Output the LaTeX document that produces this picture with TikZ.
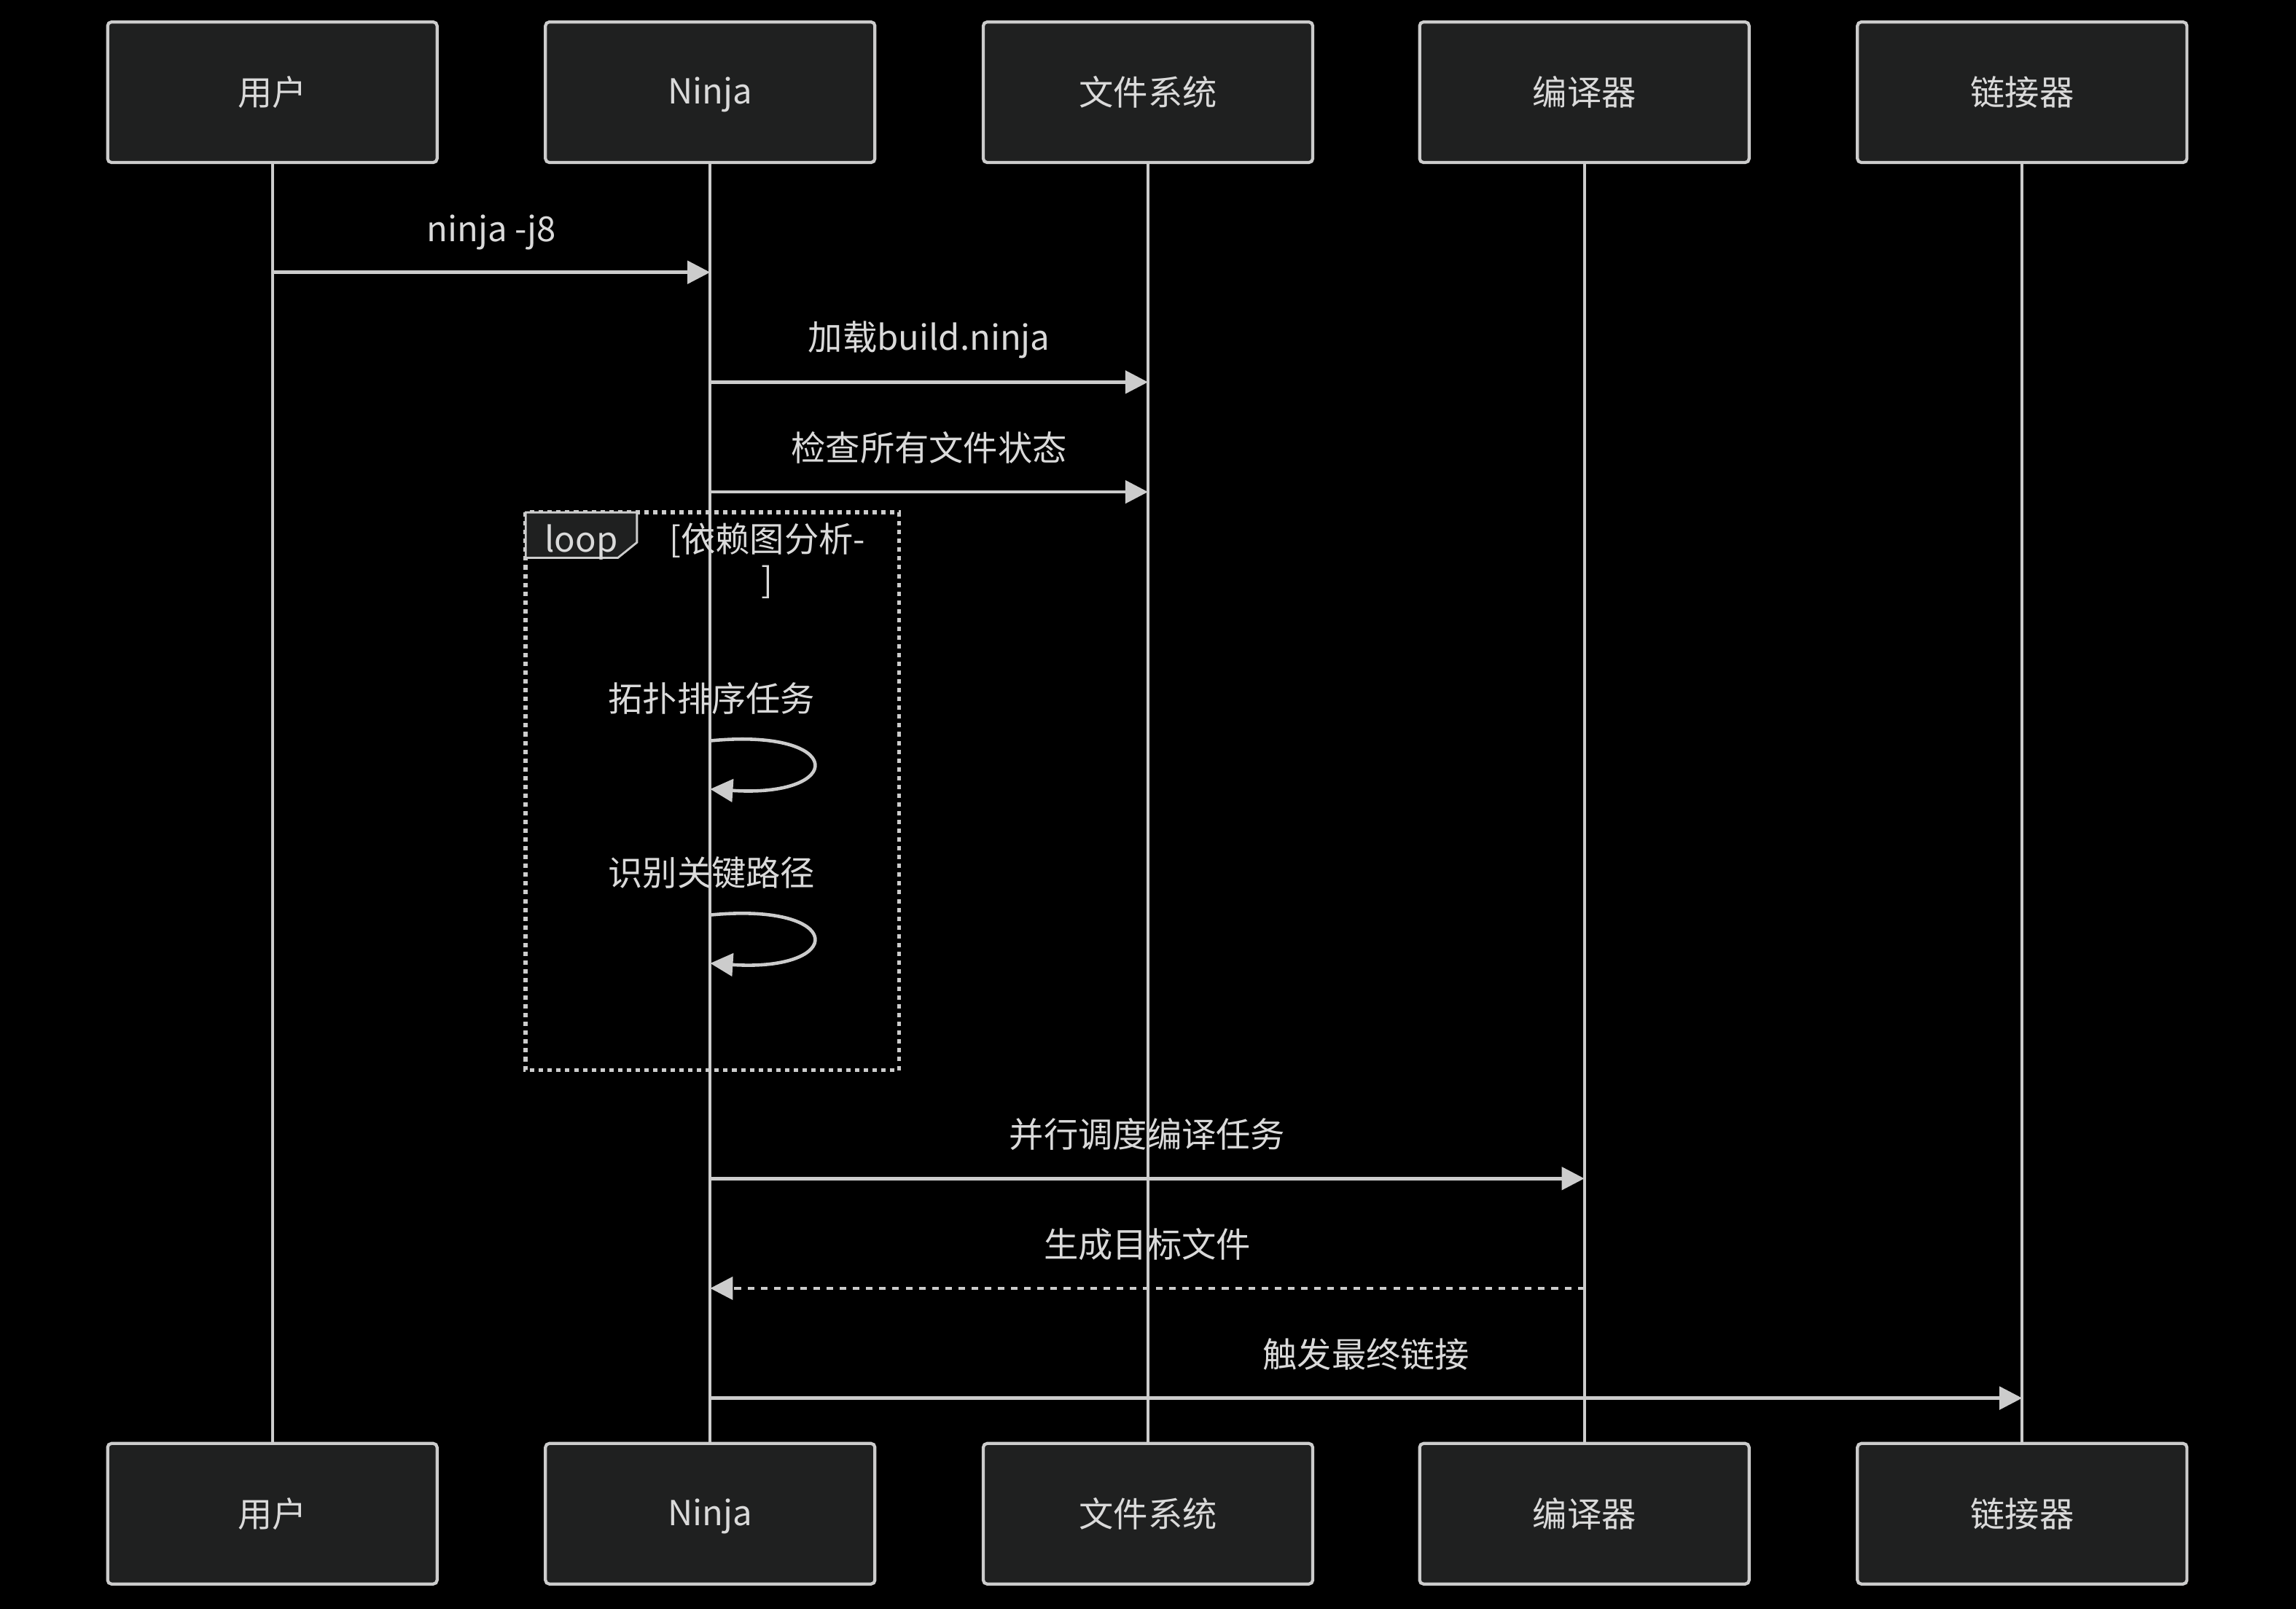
\documentclass[tikz,border=0pt]{standalone}
\usepackage{fontspec}
\setmainfont{Noto Sans CJK SC}
\usetikzlibrary{arrows.meta}
\definecolor{LineGray}{RGB}{204,204,204}
\definecolor{TextGray}{RGB}{218,218,218}
\definecolor{BoxFill}{RGB}{31,32,32}
% Latin text on the same baseline as the CJK labels
\newcommand{\cjkbox}[1]{\vphantom{用}\smash{#1}}

\begin{document}
\begin{tikzpicture}[x=0.2mm, y=-0.2mm, font=\fontsize{13.4}{16}\selectfont,
  every node/.style={align=center, text=TextGray}]
\tikzset{
  actor/.style={draw=LineGray, line width=1.2pt, fill=BoxFill, rounded corners=1.5pt,
    minimum width=4.5cm, minimum height=1.92cm},
  life/.style={LineGray, line width=1.2pt},
  msg/.style={-{Triangle[length=3.1mm,width=3.1mm]}, LineGray, line width=1.3pt},
  reply/.style={msg, dash pattern=on 0.9mm off 0.9mm},
  selfmsg/.style={msg, line width=1.3pt},
  loopframe/.style={LineGray, line width=1.6pt, dash pattern=on 0.6mm off 0.6mm},
  looptab/.style={draw=LineGray, line width=0.8pt, fill=BoxFill}
}
  \def\ytop{63}
  \def\ybot{1034}

  \fill[black] (0,0) rectangle (1568,1099);

  % participants
  \node[actor] (user) at (186,\ytop) {用户};
  \node[actor] (ninja) at (485,\ytop) {\cjkbox{Ninja}};
  \node[actor] (fs) at (784,\ytop) {文件系统};
  \node[actor] (cc) at (1082,\ytop) {编译器};
  \node[actor] (ld) at (1381,\ytop) {链接器};
  \node[actor] (userb) at (186,\ybot) {用户};
  \node[actor] (ninjab) at (485,\ybot) {\cjkbox{Ninja}};
  \node[actor] (fsb) at (784,\ybot) {文件系统};
  \node[actor] (ccb) at (1082,\ybot) {编译器};
  \node[actor] (ldb) at (1381,\ybot) {链接器};

  % lifelines
  \draw[life] (user) -- (userb);
  \draw[life] (ninja) -- (ninjab);
  \draw[life] (fs) -- (fsb);
  \draw[life] (cc) -- (ccb);
  \draw[life] (ld) -- (ldb);

  % message rows
  \coordinate (r1) at (0,186);
  \coordinate (r2) at (0,261);
  \coordinate (r3) at (0,336);
  \coordinate (s1a) at (0,506);
  \coordinate (s1b) at (0,539);
  \coordinate (s2a) at (0,625);
  \coordinate (s2b) at (0,658);
  \coordinate (r4) at (0,805);
  \coordinate (r5) at (0,880);
  \coordinate (r6) at (0,955);

  \draw[msg] (user |- r1) -- node[yshift=0.58cm] (t1) {\cjkbox{ninja -j8}} (ninja |- r1);
  \draw[msg] (ninja |- r2) -- node[yshift=0.6cm] (t2) {\cjkbox{加载build.ninja}} (fs |- r2);
  \draw[msg] (ninja |- r3) -- node[yshift=0.6cm] (t3) {检查所有文件状态} (fs |- r3);

  % loop block
  \draw[loopframe] (359,350) rectangle (614,731);
  \draw[looptab] (359,350) -- (435,350) -- (435,370.5) -- (422,381) -- (359,381) -- cycle;
  \node (looplbl) at (397,369) {\cjkbox{loop}};
  \node (cond) at (524,383) {[依赖图分析-\\]};

  \node (t4) at (486,477) {拓扑排序任务};
  \draw[selfmsg] (ninja |- s1a) .. controls (578,497) and (578,545) .. (ninja |- s1b);
  \node (t5) at (486,596) {识别关键路径};
  \draw[selfmsg] (ninja |- s2a) .. controls (578,616) and (578,664) .. (ninja |- s2b);

  \draw[msg] (ninja |- r4) -- node[yshift=0.6cm] (t6) {并行调度编译任务} (cc |- r4);
  \draw[reply] (cc |- r5) -- node[yshift=0.6cm] (t7) {生成目标文件} (ninja |- r5);
  \draw[msg] (ninja |- r6) -- node[yshift=0.6cm] (t8) {触发最终链接} (ld |- r6);
\end{tikzpicture}
\end{document}
